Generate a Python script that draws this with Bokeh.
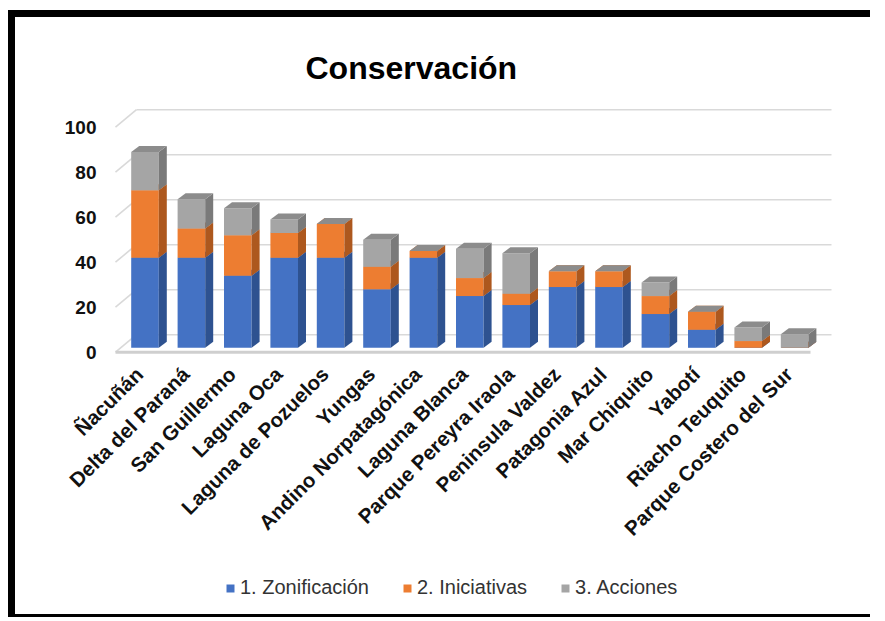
import math
from bokeh.plotting import figure
from bokeh.models import FixedTicker, Legend, LegendItem, Range1d, ColumnDataSource, Title
from bokeh.embed import file_html
from bokeh.resources import INLINE

# ---------------- data ----------------
categories = ["Ñacuñán", "Delta del Paraná", "San Guillermo", "Laguna Oca",
              "Laguna de Pozuelos", "Yungas", "Andino Norpatagónica", "Laguna Blanca",
              "Parque Pereyra Iraola", "Peninsula Valdez", "Patagonia Azul",
              "Mar Chiquito", "Yabotí", "Riacho Teuquito", "Parque Costero del Sur"]
zonificacion = [40, 40, 32, 40, 40, 26, 40, 23, 19, 27, 27, 15, 8, 0, 0]
iniciativas = [30, 13, 18, 11, 15, 10, 3, 8, 5, 7, 7, 8, 8, 3, 0]
acciones = [17, 13, 12, 6, 0, 12, 0, 13, 18, 0, 0, 6, 0, 6, 6]
series_names = ["1. Zonificación", "2. Iniciativas", "3. Acciones"]
y_ticks = [0, 20, 40, 60, 80, 100]
title_text = "Conservación"

# ---------------- styles / geometry ----------------
front_colors = ["#4472C4", "#ED7D31", "#A5A5A5"]
side_colors = ["#2E5290", "#AD581E", "#7A7A7A"]
top_colors = ["#3A66B4", "#D06B27", "#8C8C8C"]
FONT = "Liberation Sans"

ORIGIN_X, ORIGIN_Y = 8, 10       # page position of the chart box
PX_X, PX_Y = 46.4, 2.25          # pixels per category / per unit
X0_PAGE, Y0_PAGE = 138.7, 351.7  # page position of category 0 / value 0
FRAME_L, FRAME_R, FRAME_T, FRAME_B = 16, 850, 95, 606
AXIS_PAGE_X = 110                # page x of the value axis
AXIS_PAGE_Y = 365                # page y of the category axis
BORDER = 7

BAR_W = 27.6 / PX_X
BAR_SX = 5.8 / PX_X              # bar plane shift (right)
BAR_SY = 4.4 / PX_Y              # bar plane shift (up)
BAR_DX = 8.0 / PX_X              # bar depth
BAR_DY = 6.0 / PX_Y
WALL_DX = 21.0 / PX_X            # back wall depth
WALL_DY = 17.5 / PX_Y
FLOOR_X0 = (115 - X0_PAGE) / PX_X
FLOOR_X1 = (810 - X0_PAGE) / PX_X

x_range = Range1d((FRAME_L - X0_PAGE) / PX_X, (FRAME_R - X0_PAGE) / PX_X)
y_range = Range1d((Y0_PAGE - FRAME_B) / PX_Y, (Y0_PAGE - FRAME_T) / PX_Y)

p = figure(frame_width=FRAME_R - FRAME_L, frame_height=FRAME_B - FRAME_T,
           x_range=x_range, y_range=y_range,
           output_backend="svg", toolbar_location=None,
           min_border_left=FRAME_L - ORIGIN_X - BORDER, min_border_right=20,
           min_border_top=FRAME_T - ORIGIN_Y - BORDER, min_border_bottom=8)
p.styles = {"border-left": f"{BORDER}px solid black", "border-top": f"{BORDER}px solid black",
            "border-bottom": "3px solid black",
            "margin-left": f"{ORIGIN_X}px", "margin-top": f"{ORIGIN_Y}px"}
p.outline_line_color = None
p.xgrid.visible = False
p.ygrid.visible = False
p.background_fill_color = "white"
p.border_fill_color = "white"

p.title = Title(text=title_text, align="left", offset=305 - FRAME_L,
                text_font=FONT, text_font_size="32px", text_font_style="bold",
                text_color="#000000", standoff=20)

# ---------------- walls ----------------
grid_xs, grid_ys = [], []
for v in y_ticks:
    grid_xs.append([FLOOR_X0 + WALL_DX, FLOOR_X1 + WALL_DX])
    grid_ys.append([v + WALL_DY, v + WALL_DY])
    grid_xs.append([FLOOR_X0, FLOOR_X0 + WALL_DX])
    grid_ys.append([v, v + WALL_DY])
p.multi_line(grid_xs, grid_ys, line_color="#D9D9D9", line_width=1.6)
p.line([FLOOR_X0, FLOOR_X1], [0, 0], line_color="#CFCFCF", line_width=3)

# ---------------- 3D stacked bars ----------------
series = [zonificacion, iniciativas, acciones]
base = [0.0] * len(categories)
legend_items = []
for s, vals in enumerate(series):
    L, R, B, T = [], [], [], []
    side_xs, side_ys, top_xs, top_ys = [], [], [], []
    for i, v in enumerate(vals):
        l = i + BAR_SX - BAR_W / 2
        r = i + BAR_SX + BAR_W / 2
        b = BAR_SY + base[i]
        t = b + v
        L.append(l); R.append(r); B.append(b); T.append(t)
        side_xs.append([r, r + BAR_DX, r + BAR_DX, r])
        side_ys.append([b, b + BAR_DY, t + BAR_DY, t])
        top_xs.append([l, l + BAR_DX, r + BAR_DX, r])
        top_ys.append([t, t + BAR_DY, t + BAR_DY, t])
        base[i] += v
    src = ColumnDataSource(dict(left=L, right=R, bottom=B, top=T))
    fr = p.quad(left="left", right="right", bottom="bottom", top="top", source=src,
                fill_color=front_colors[s], line_color=None)
    p.patches(side_xs, side_ys, fill_color=side_colors[s], line_color=None)
    p.patches(top_xs, top_ys, fill_color=top_colors[s], line_color=None)
    legend_items.append(LegendItem(label=series_names[s], renderers=[fr]))

# ---------------- axes ----------------
p.yaxis.fixed_location = (AXIS_PAGE_X - X0_PAGE) / PX_X
p.yaxis.ticker = FixedTicker(ticks=y_ticks)
p.yaxis.axis_line_color = None
p.yaxis.major_tick_line_color = None
p.yaxis.minor_tick_line_color = None
p.yaxis.major_tick_out = 0
p.yaxis.major_tick_in = 0
p.yaxis.major_label_standoff = 14
p.yaxis.major_label_text_font = FONT
p.yaxis.major_label_text_font_size = "19px"
p.yaxis.major_label_text_font_style = "bold"
p.yaxis.major_label_text_color = "#111111"

p.xaxis.fixed_location = (Y0_PAGE - AXIS_PAGE_Y) / PX_Y
p.xaxis.ticker = FixedTicker(ticks=list(range(len(categories))))
p.xaxis.major_label_overrides = {i: c for i, c in enumerate(categories)}
p.xaxis.major_label_orientation = math.pi / 4
p.xaxis.axis_line_color = None
p.xaxis.major_tick_line_color = None
p.xaxis.minor_tick_line_color = None
p.xaxis.major_tick_out = 0
p.xaxis.major_tick_in = 0
p.xaxis.major_label_standoff = 5
p.xaxis.major_label_text_font = FONT
p.xaxis.major_label_text_font_size = "20.5px"
p.xaxis.major_label_text_font_style = "bold"
p.xaxis.major_label_text_color = "#111111"

# legend at the bottom of the (extended) frame; offsets in screen px from its lower-left
legend = Legend(items=legend_items, orientation="horizontal",
                location=(225 - FRAME_L, FRAME_B - 599),
                glyph_width=10, glyph_height=10, label_standoff=5, spacing=33,
                label_text_font=FONT, label_text_font_size="20px",
                label_text_color="#333333", border_line_color=None,
                background_fill_alpha=0, padding=0, margin=0)
p.add_layout(legend, "center")

open("out.html", "w").write(file_html(p, INLINE))
